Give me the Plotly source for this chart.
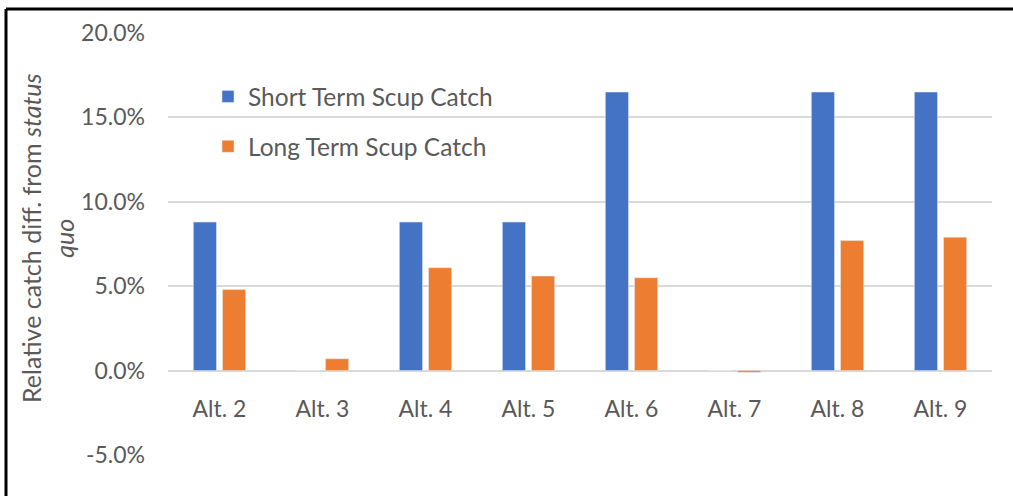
import plotly.graph_objects as go

alternatives = ["Alt. 2", "Alt. 3", "Alt. 4", "Alt. 5", "Alt. 6", "Alt. 7", "Alt. 8", "Alt. 9"]
short_term = [0.088, 0.0, 0.088, 0.088, 0.165, 0.0, 0.165, 0.165]
long_term = [0.048, 0.007, 0.061, 0.056, 0.055, -0.001, 0.077, 0.079]
y_ticks = [-0.05, 0.0, 0.05, 0.10, 0.15, 0.20]
y_tick_labels = ["-5.0%", "0.0%", "5.0%", "10.0%", "15.0%", "20.0%"]

FONT = "Lato"
GREY = "#595959"
GRID = "#D9D9D9"

# plot area in pixels (used for the legend / frame / title placement)
L, R, T, B = 168, 992, 33, 455
W, H = 1013, 496

def px_x(x):
    return (x - L) / (R - L)

def px_y(y):
    return (B - y) / (B - T)

fig = go.Figure()
fig.add_trace(go.Bar(x=alternatives, y=short_term, name="Short Term Scup Catch",
                     marker_color="#4472C4", legendgroup="a"))
fig.add_trace(go.Bar(x=alternatives, y=long_term, name="Long Term Scup Catch",
                     marker_color="#ED7D31", legendgroup="b"))

fig.update_layout(
    width=W, height=H,
    margin=dict(l=L, r=W - R, t=T, b=H - B),
    paper_bgcolor="white",
    plot_bgcolor="white",
    font=dict(family=FONT, size=23, color=GREY),
    barmode="group",
    bargap=0.434,
    bargroupgap=0.206,
    showlegend=True,
    legend=dict(x=px_x(208), y=px_y(74), xanchor="left", yanchor="top",
                bgcolor="rgba(0,0,0,0)", tracegroupgap=15,
                font=dict(family=FONT, size=24.5, color=GREY)),
)

fig.update_yaxes(
    range=[-0.05, 0.20], tickvals=y_ticks, ticktext=y_tick_labels,
    showgrid=True, gridcolor=GRID, gridwidth=1.5,
    zeroline=True, zerolinecolor=GRID, zerolinewidth=1.5,
    showline=False, ticks="", ticklabelstandoff=22,
)
fig.update_xaxes(
    anchor="free", position=px_y(371),
    showgrid=False, showline=False, ticks="", ticklabelstandoff=22,
)

# y-axis title as a rotated annotation
fig.add_annotation(
    text="Relative catch diff. from <i>status</i><br><i>quo</i>",
    xref="paper", yref="paper", x=px_x(48), y=px_y(238),
    xanchor="center", yanchor="middle", textangle=-90, showarrow=False,
    font=dict(family=FONT, size=25, color=GREY), align="center",
)

# outer frame (top and left edges visible)
fig.add_shape(type="line", xref="paper", yref="paper",
              x0=px_x(6), x1=px_x(1015), y0=px_y(9), y1=px_y(9),
              line=dict(color="black", width=3))
fig.add_shape(type="line", xref="paper", yref="paper",
              x0=px_x(6), x1=px_x(6), y0=px_y(9), y1=px_y(500),
              line=dict(color="black", width=3))

fig.write_html("out.html", config={"displayModeBar": False},
               post_script="document.body.style.margin='0';")
